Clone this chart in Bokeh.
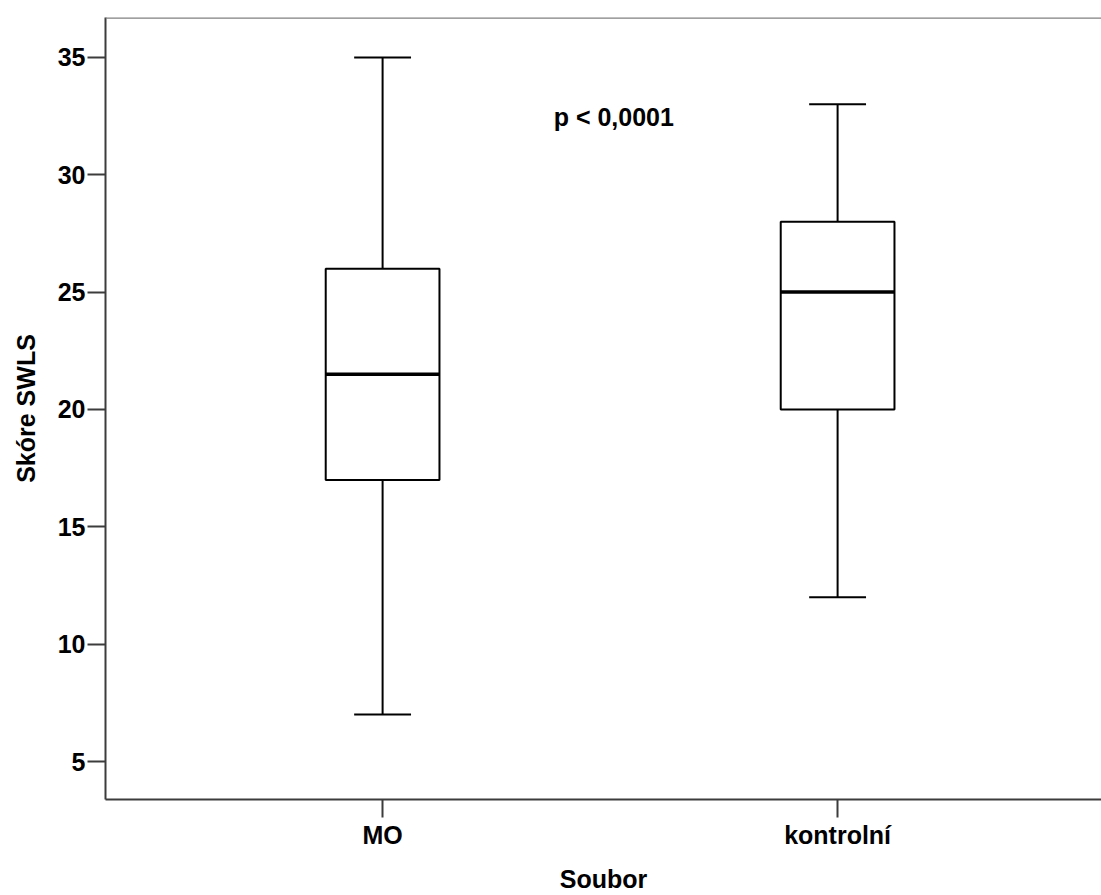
from bokeh.plotting import figure
from bokeh.models import Span, Label, FixedTicker
from bokeh.embed import file_html
from bokeh.resources import INLINE

# Box-plot summary of SWLS scores per group
groups = ["MO", "kontrolní"]
group_pos = [1, 2]
whisker_low = [7, 12]
q1 = [17, 20]
median = [21.5, 25]
q3 = [26, 28]
whisker_high = [35, 33]
y_ticks = [5, 10, 15, 20, 25, 30, 35]
p_text = "p < 0,0001"

FONT = "Liberation Sans"
FONT_SIZE = "25px"
AXIS_COLOR = "#3c3c3c"

p = figure(width=1101, height=895, output_backend="svg", toolbar_location=None,
           x_range=(0.391, 2.58), y_range=(3.383, 36.70),
           min_border_left=105, min_border_right=0, min_border_top=17, min_border_bottom=95)
p.outline_line_color = None
p.grid.grid_line_color = None
p.background_fill_color = "white"
p.border_fill_color = "white"

box_w = 0.25
cap_w = 0.125

# whiskers
p.segment(x0=group_pos, y0=whisker_low, x1=group_pos, y1=q1, line_color="black", line_width=2)
p.segment(x0=group_pos, y0=q3, x1=group_pos, y1=whisker_high, line_color="black", line_width=2)
# caps
p.segment(x0=[g - cap_w / 2 for g in group_pos], y0=whisker_low,
          x1=[g + cap_w / 2 for g in group_pos], y1=whisker_low, line_color="black", line_width=2)
p.segment(x0=[g - cap_w / 2 for g in group_pos], y0=whisker_high,
          x1=[g + cap_w / 2 for g in group_pos], y1=whisker_high, line_color="black", line_width=2)
# boxes
p.vbar(x=group_pos, width=box_w, bottom=q1, top=q3, fill_color="white",
       line_color="black", line_width=2)
# medians
p.segment(x0=[g - box_w / 2 for g in group_pos], y0=median,
          x1=[g + box_w / 2 for g in group_pos], y1=median, line_color="black", line_width=3.5)

# top frame edge
p.add_layout(Span(location=36.70, dimension="width", line_color="#808080", line_width=2.5))

# axes
for ax in (p.xaxis[0], p.yaxis[0]):
    ax.axis_line_color = AXIS_COLOR
    ax.axis_line_width = 2
    ax.major_tick_line_color = AXIS_COLOR
    ax.major_tick_line_width = 2
    ax.major_tick_in = 0
    ax.major_tick_out = 18
    ax.minor_tick_line_color = None
    ax.major_label_text_font = FONT
    ax.major_label_text_font_style = "bold"
    ax.major_label_text_color = "black"
    ax.major_label_text_font_size = FONT_SIZE
    ax.axis_label_text_font = FONT
    ax.axis_label_text_font_style = "bold"
    ax.axis_label_text_color = "black"
    ax.axis_label_text_font_size = FONT_SIZE

p.yaxis.ticker = FixedTicker(ticks=y_ticks)
p.yaxis.major_label_standoff = 2
p.yaxis.axis_label = "Skóre SWLS"
p.yaxis.axis_label_standoff = 15

p.xaxis.ticker = FixedTicker(ticks=group_pos)
p.xaxis.major_label_overrides = {g: name for g, name in zip(group_pos, groups)}
p.xaxis.major_label_standoff = 3
p.xaxis.axis_label = "Soubor"
p.xaxis.axis_label_standoff = 13

p.add_layout(Label(x=1.376, y=32.45, text=p_text, text_font=FONT, text_font_style="bold",
                   text_font_size=FONT_SIZE, text_color="black", text_baseline="middle"))

open("out.html", "w").write(file_html(p, INLINE))
